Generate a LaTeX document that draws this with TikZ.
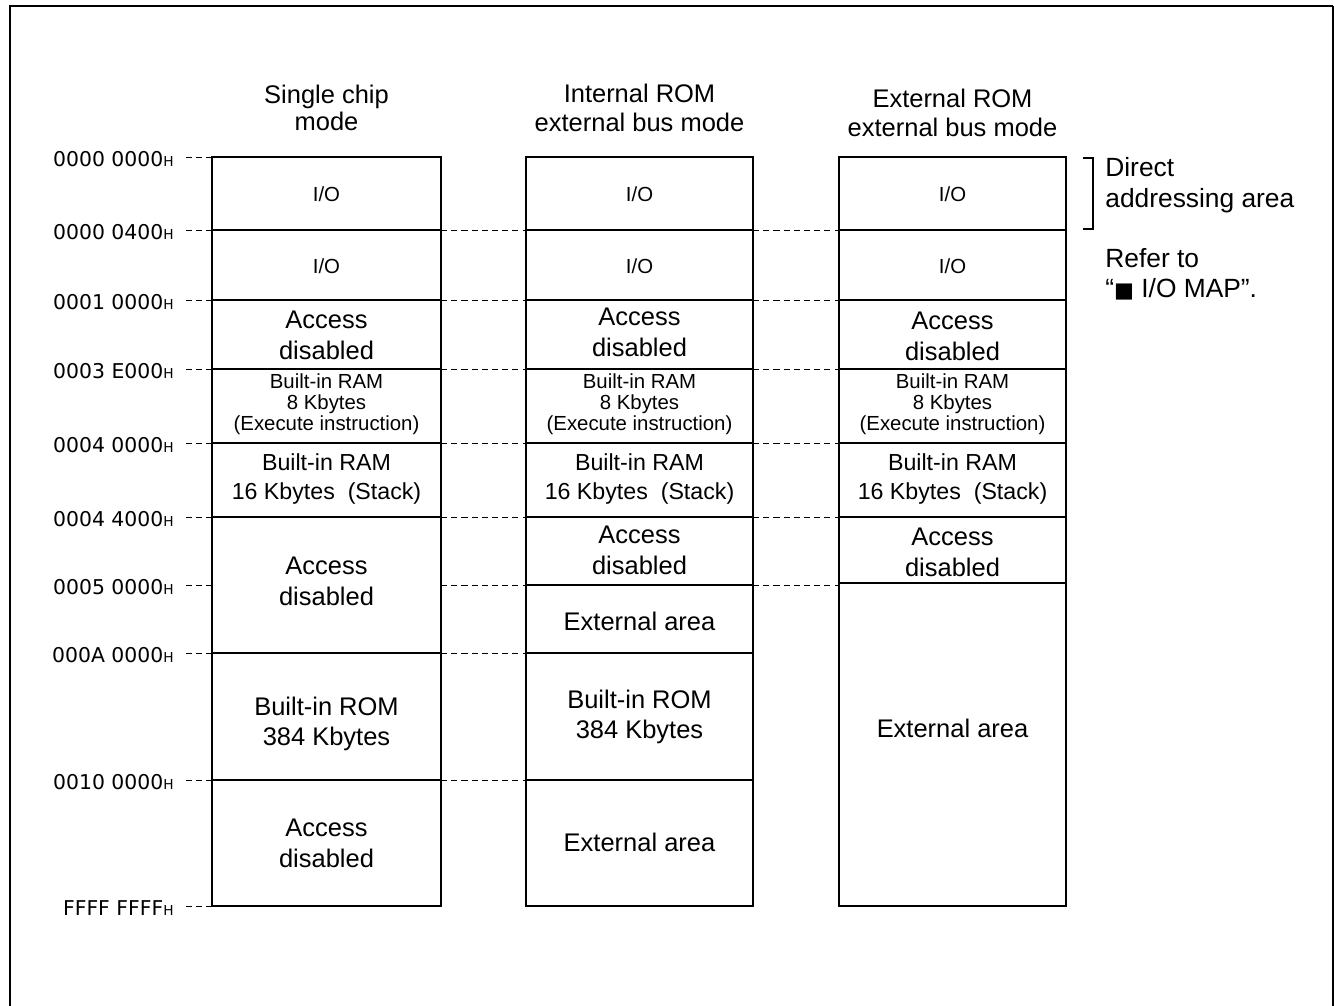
\documentclass[tikz,border=0pt]{standalone}
\usepackage{fontspec}
\setmainfont{Liberation Sans}
\newfontfamily\addrfont{DejaVu Sans}
\newcommand{\hx}{{\fontsize{7.8}{8}\selectfont H}}

\tikzset{
  frame/.style={line width=1.2pt},
  part/.style={line width=0.6pt},
  guide/.style={line width=0.5pt, dash pattern=on 3.5pt off 2.3pt},
  big/.style={align=center, inner sep=0pt, font=\fontsize{14.5}{17.5}\selectfont},
  head/.style={align=center, inner sep=0pt, font=\fontsize{14.5}{15.8}\selectfont},
  mid/.style={align=center, inner sep=0pt, font=\fontsize{13.2}{17}\selectfont},
  small/.style={align=center, inner sep=0pt, font=\fontsize{11.6}{11.9}\selectfont},
  addr/.style={anchor=east, inner sep=0pt, font=\addrfont\fontsize{11.6}{12}\selectfont},
}

\begin{document}
\begin{tikzpicture}[x=0.02cm, y=-0.02cm]
  \useasboundingbox (0,0) rectangle (1334,1006);

  % outer frame, open at the bottom
  \draw[frame] (10,1010) -- (10,6) -- (1333,6);
  \draw[part] (1333,6) -- (1333,1010);

  % column headers
  \node[head] (h1) at (326.5,108) {Single chip\\mode};
  \node[head, font=\fontsize{14.5}{16.5}\selectfont] (h2) at (639.5,107.5) {Internal ROM\\external bus mode};
  \node[head, font=\fontsize{14.5}{16.5}\selectfont] (h3) at (952.5,113) {External ROM\\external bus mode};

  % addresses
  \node[addr] (a0) at (174,159) {0000 0000\hx};
  \node[addr] (a1) at (174,232) {0000 0400\hx};
  \node[addr] (a2) at (174,302) {0001 0000\hx};
  \node[addr] (a3) at (174,371) {0003 E000\hx};
  \node[addr] (a4) at (174,445) {0004 0000\hx};
  \node[addr] (a5) at (174,519) {0004 4000\hx};
  \node[addr] (a6) at (174,587) {0005 0000\hx};
  \node[addr] (a7) at (174,655) {000A 0000\hx};
  \node[addr] (a8) at (174,782) {0010 0000\hx};
  \node[addr] (a9) at (174,908) {FFFF FFFF\hx};

  \foreach \y in {157,230,300,369,443,517,585,653,780,906}
    \draw[guide] (186,\y) -- (212,\y);
  \foreach \y in {230,300,369,443,517,585,653,780}
    \draw[guide] (441,\y) -- (526,\y);
  \foreach \y in {230,300,369,443,517,585}
    \draw[guide] (753,\y) -- (839,\y);

  % single chip mode
  \foreach \y in {230,300,369,443,517,653,780}
    \draw[part] (212,\y) -- (441,\y);
  \draw[frame] (212,157) rectangle (441,906);
  \node[small] (s1) at (326.5,194) {I/O};
  \node[small] (s2) at (326.5,266) {I/O};
  \node[big] (s3) at (326.5,335) {Access\\disabled};
  \node[small] (s4) at (326.5,404) {Built-in RAM\\8 Kbytes\\(Execute instruction)};
  \node[mid] (s5) at (326.5,479) {Built-in RAM\\16 Kbytes\ \ (Stack)};
  \node[big] (s6) at (326.5,581) {Access\\disabled};
  \node[big] (s7) at (326.5,724) {Built-in ROM\\384 Kbytes};
  \node[big] (s8) at (326.5,843) {Access\\disabled};

  % internal ROM external bus mode
  \foreach \y in {230,300,369,443,517,585,653,780}
    \draw[part] (526,\y) -- (753,\y);
  \draw[frame] (526,157) rectangle (753,906);
  \node[small] (i1) at (639.5,194) {I/O};
  \node[small] (i2) at (639.5,266) {I/O};
  \node[big] (i3) at (639.5,332) {Access\\disabled};
  \node[small] (i4) at (639.5,404) {Built-in RAM\\8 Kbytes\\(Execute instruction)};
  \node[mid] (i5) at (639.5,479) {Built-in RAM\\16 Kbytes\ \ (Stack)};
  \node[big] (i6) at (639.5,550) {Access\\disabled};
  \node[big] (i7) at (639.5,621) {External area};
  \node[big] (i8) at (639.5,717) {Built-in ROM\\384 Kbytes};
  \node[big] (i9) at (639.5,842) {External area};

  % external ROM external bus mode
  \foreach \y in {230,300,369,443,517,583}
    \draw[part] (839,\y) -- (1066,\y);
  \draw[frame] (839,157) rectangle (1066,906);
  \node[small] (e1) at (952.5,194) {I/O};
  \node[small] (e2) at (952.5,266) {I/O};
  \node[big] (e3) at (952.5,336) {Access\\disabled};
  \node[small] (e4) at (952.5,404) {Built-in RAM\\8 Kbytes\\(Execute instruction)};
  \node[mid] (e5) at (952.5,479) {Built-in RAM\\16 Kbytes\ \ (Stack)};
  \node[big] (e6) at (952.5,552) {Access\\disabled};
  \node[big] (e7) at (952.5,728) {External area};

  % notes on the right
  \draw[part] (1083,158) -- (1093,158) -- (1093,229) -- (1083,229);
  \node[big, align=left, anchor=west, font=\fontsize{15}{17.6}\selectfont] (n1) at (1105,185) {Direct\\addressing area};
  \node[big, align=left, anchor=west, font=\fontsize{15}{17}\selectfont] (n2) at (1105,274) {Refer to\\“{\addrfont\fontsize{12}{12}\selectfont ■} I/O MAP”.};
\end{tikzpicture}
\end{document}
